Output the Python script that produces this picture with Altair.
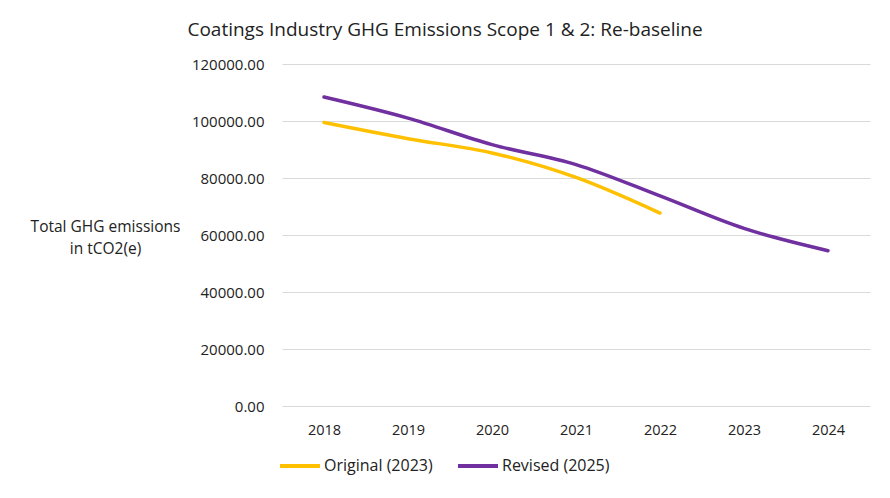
import altair as alt
import pandas as pd

years = ["2018", "2019", "2020", "2021", "2022", "2023", "2024"]
original = [99500, 93800, 88800, 80200, 67700, None, None]
revised = [108400, 101000, 91700, 84700, 73700, 62300, 54500]
series_names = ["Original (2023)", "Revised (2025)"]
colors = ["#FFC000", "#7030A0"]

rows = []
for y, v in zip(years, original):
    if v is not None:
        rows.append({"year": y, "value": v, "series": series_names[0]})
for y, v in zip(years, revised):
    rows.append({"year": y, "value": v, "series": series_names[1]})
df = pd.DataFrame(rows)

FONT = "Open Sans"

chart = alt.Chart(df).mark_line(strokeWidth=3.5, interpolate="monotone", strokeCap="round").encode(
    x=alt.X("year:O", sort=years, title=None,
            axis=alt.Axis(labelAngle=0, ticks=False, domain=False, labelPadding=17,
                          labelFontSize=14.5, labelColor="#222", labelFont=FONT)),
    y=alt.Y("value:Q", title=["Total GHG emissions", "in tCO2(e)"],
            scale=alt.Scale(domain=[0, 120000], nice=False),
            axis=alt.Axis(values=[0, 20000, 40000, 60000, 80000, 100000, 120000],
                          format=".2f", ticks=False, domain=False, labelPadding=18,
                          labelFontSize=15, labelColor="#222", labelFont=FONT,
                          gridColor="#d9d9d9", gridWidth=1,
                          titleAngle=0, titleAlign="center", titleBaseline="middle",
                          titleX=-177, titleY=162, titleFontSize=15.5, titleFontWeight="normal",
                          titleColor="#222", titleFont=FONT, titleLineHeight=22)),
    color=alt.Color("series:N", scale=alt.Scale(domain=series_names, range=colors),
                    legend=alt.Legend(title=None, orient="none", direction="horizontal",
                                      legendX=-4, legendY=380, symbolType="stroke",
                                      symbolSize=1600, symbolStrokeWidth=4,
                                      labelFontSize=16, labelFont=FONT, labelColor="#222",
                                      labelOffset=2, columnPadding=17)),
).properties(
    width=588, height=342,
    title=alt.TitleParams("Coatings Industry GHG Emissions Scope 1 & 2: Re-baseline",
                          fontSize=19, font=FONT, fontWeight="normal", color="#222",
                          anchor="middle", dx=-131, offset=17),
    padding={"left": 274, "top": 56, "right": 12, "bottom": 84},
    autosize="none",
).configure_view(stroke=None)

chart.save("out.html", embed_options={"renderer": "svg", "actions": False})
